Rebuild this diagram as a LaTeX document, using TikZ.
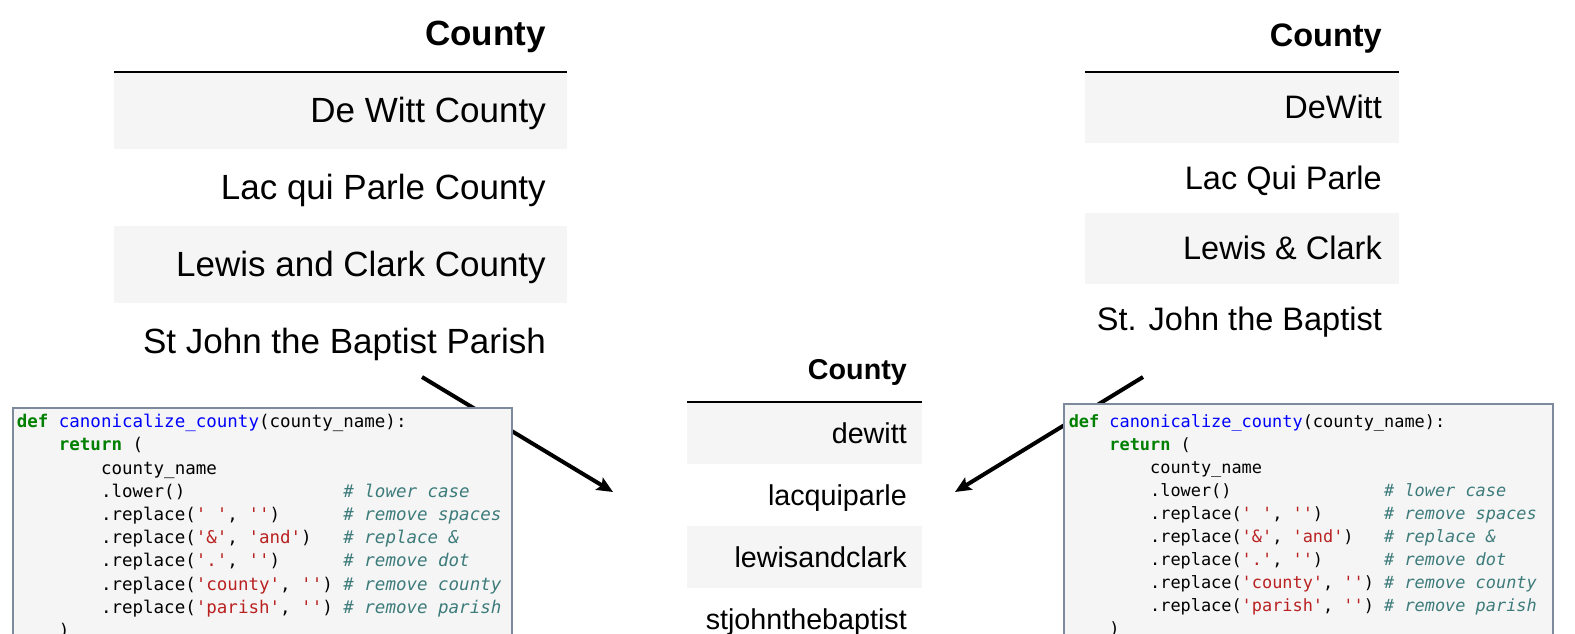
\documentclass[tikz,border=0pt]{standalone}
\usepackage{fontspec}
\setmainfont{Liberation Sans}
\setmonofont{DejaVu Sans Mono}
\usetikzlibrary{arrows.meta}

\definecolor{rowgray}{HTML}{F5F5F5}
\definecolor{codebg}{HTML}{F5F5F5}
\definecolor{codeframe}{HTML}{7D8A9C}
\definecolor{pykey}{HTML}{008000}
\definecolor{pyfun}{HTML}{0000FF}
\definecolor{pystr}{HTML}{BA2121}
\definecolor{pycom}{HTML}{3D7B7B}

\tikzset{
  cell/.style={anchor=base east, inner sep=0pt},
  head/.style={anchor=base east, inner sep=0pt},
  rule/.style={line width=2pt},
  flow/.style={line width=4pt, -{Stealth[length=16pt,width=14pt,inset=3pt]}},
  codebox/.style={draw=codeframe, line width=1.5pt, fill=codebg, anchor=north west,
    align=left, font=\ttfamily}
}

\newcommand{\sk}[1]{\hspace*{#1\fontcharwd\font`x}}
\newcommand{\pystr}[1]{\textcolor{pystr}{\textquotesingle#1\textquotesingle}}
\newcommand{\pycom}[1]{\textcolor{pycom}{\itshape\#\sk{1}#1}}
\newcommand{\canon}{%
\textcolor{pykey}{\bfseries def}\sk{1}\textcolor{pyfun}{canonicalize\_county}(county\_name):\\
\sk{4}\textcolor{pykey}{\bfseries return}\sk{1}(\\
\sk{8}county\_name\\
\sk{8}.lower()\sk{15}\pycom{lower\sk{1}case}\\
\sk{8}.replace(\pystr{\sk{1}},\sk{1}\pystr{})\sk{6}\pycom{remove\sk{1}spaces}\\
\sk{8}.replace(\pystr{\&},\sk{1}\pystr{and})\sk{3}\pycom{replace\sk{1}\&}\\
\sk{8}.replace(\pystr{.},\sk{1}\pystr{})\sk{6}\pycom{remove\sk{1}dot}\\
\sk{8}.replace(\pystr{county},\sk{1}\pystr{})\sk{1}\pycom{remove\sk{1}county}\\
\sk{8}.replace(\pystr{parish},\sk{1}\pystr{})\sk{1}\pycom{remove\sk{1}parish}\\
\sk{4})}

% #1 name, #2 left, #3 right, #4 text right, #5 rule, #6 row height, #7 font size, #8 rows
\newcommand{\countytable}[8]{%
  \begin{scope}[font=\fontsize{#7}{#7}\selectfont]
    \foreach \t [count=\i] in {#8} {
      \ifodd\i \fill[rowgray] (#2,{#5+(\i-1)*#6}) rectangle (#3,{#5+\i*#6}); \fi
      \node[cell] (#1\i) at (#4,{#5+(\i-0.5)*#6+0.355*#7}) {\t};
    }
    \node[head] (#1h) at (#4,{#5-0.77*#7}) {\bfseries County};
    \draw[rule] (#2,#5) -- (#3,#5);
  \end{scope}}

\begin{document}
\begin{tikzpicture}[x=1pt, y=-1pt]
  \useasboundingbox (0,0) rectangle (1575,633);
  \clip (0,0) rectangle (1575,633);

  \countytable{raw}{114}{567}{546}{72}{77}{35}
    {De Witt County, Lac qui Parle County, Lewis and Clark County, St John the Baptist Parish}
  \countytable{fix}{1085}{1399}{1382}{72}{70.5}{32.5}
    {DeWitt, Lac Qui Parle, Lewis \& Clark, St. John the Baptist}
  \countytable{clean}{687}{922}{907}{402}{62}{28.7}
    {dewitt, lacquiparle, lewisandclark, stjohnthebaptist}

  \coordinate (rawout) at (422,377);
  \coordinate (cleanin) at (613,492);
  \coordinate (fixout) at (1143,377);
  \coordinate (cleanin2) at (955,492);
  \draw[flow] (rawout) -- (cleanin);
  \draw[flow] (fixout) -- (cleanin2);

  \node[codebox, font=\ttfamily\fontsize{17.5}{23.2}\selectfont,
    text width=491pt, inner xsep=4pt, inner ysep=6.5pt] (rawcode) at (12,407) {\canon};
  \node[codebox, font=\ttfamily\fontsize{16.9}{23}\selectfont,
    text width=479pt, inner xsep=5pt, inner ysep=11pt] (fixcode) at (1063,403) {\canon};
\end{tikzpicture}
\end{document}
